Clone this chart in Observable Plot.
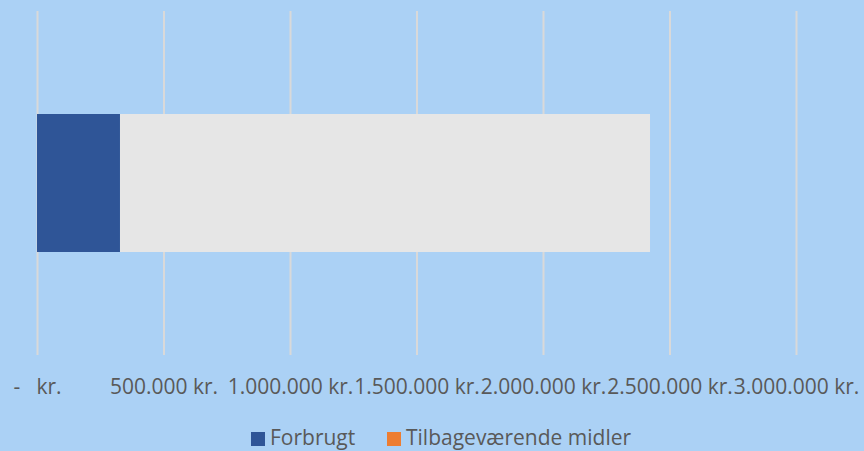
<!DOCTYPE html>
<html>
<head>
<meta charset="utf-8">
<script src="https://cdn.jsdelivr.net/npm/d3@7"></script>
<script src="https://cdn.jsdelivr.net/npm/@observablehq/plot@0.6"></script>
<style>
  html, body { margin: 0; padding: 0; background: #ABD1F5; overflow: hidden; }
  #chart svg { display: block; }
  #legend { height: 29px; line-height: 31px; font-family: "Open Sans", sans-serif; font-size: 21px; color: #595959; position: relative; }
  .item { position: absolute; top: 0; white-space: nowrap; }
  .sw { display: inline-block; width: 14px; height: 14px; vertical-align: -1px; margin-right: 5px; }
</style>
</head>
<body>
<div id="chart"></div>
<div id="legend"></div>
<script>
const categories = ["Budget"];
const seriesNames = ["Forbrugt", "Tilbageværende midler"];
const forbrugt = [328000];
const tilbage = [2095000];
const xTicks = [0, 500000, 1000000, 1500000, 2000000, 2500000, 3000000];

const barFill = {"Forbrugt": "#2F5597", "Tilbageværende midler": "#E6E6E6"};
const legendFill = {"Forbrugt": "#2F5597", "Tilbageværende midler": "#ED7D31"};

const rows = [];
categories.forEach((c, i) => {
  rows.push({cat: c, series: seriesNames[0], value: forbrugt[i]});
  rows.push({cat: c, series: seriesNames[1], value: tilbage[i]});
});

const fmt = d => d === 0 ? "-\u00a0\u00a0\u00a0kr." : d3.format(",")(d).replace(/,/g, ".") + " kr.";

const chart = Plot.plot({
  width: 864,
  height: 422,
  marginLeft: 37,
  marginRight: 68,
  marginTop: 11,
  marginBottom: 67,
  style: {background: "transparent", fontFamily: "Open Sans, sans-serif", fontSize: "21px", color: "#595959"},
  x: {domain: [0, 3000000], ticks: xTicks, tickFormat: fmt, label: null, tickSize: 0, tickPadding: 24},
  y: {domain: categories, padding: 0.427, axis: null},
  marks: [
    Plot.ruleX(xTicks, {stroke: "#D9D9D9", strokeWidth: 2}),
    Plot.barX(rows, {y: "cat", x: "value", fill: d => barFill[d.series]}),
    Plot.axisX({ticks: xTicks, tickFormat: fmt, tickSize: 0, tickPadding: 24, label: null, fill: "#595959"})
  ]
});
document.getElementById("chart").appendChild(chart);

const legend = document.getElementById("legend");
const positions = [251, 387];
seriesNames.forEach((s, i) => {
  const it = document.createElement("span");
  it.className = "item";
  it.style.left = positions[i] + "px";
  const sw = document.createElement("span");
  sw.className = "sw";
  sw.style.background = legendFill[s];
  it.appendChild(sw);
  it.appendChild(document.createTextNode(s));
  legend.appendChild(it);
});
</script>
</body>
</html>
